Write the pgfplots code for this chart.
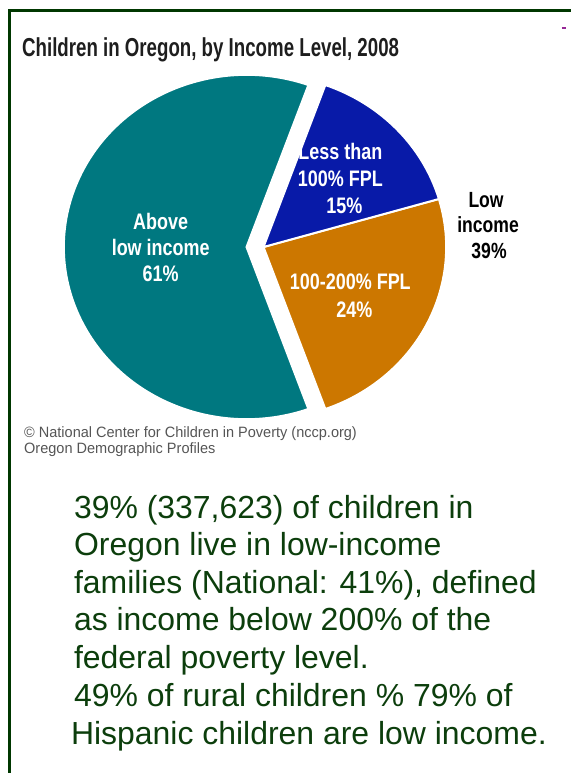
\documentclass[border=0pt]{standalone}
\usepackage{pgfplots}
\pgfplotsset{compat=1.18}
\usepackage{pgfplotstable}
\usepackage{fontspec}
\setmainfont{Liberation Sans}
\newfontfamily\titlefont[FakeStretch=0.72]{Liberation Sans}
\newfontfamily\piefont[FakeStretch=0.8]{Liberation Sans}
\newfontfamily\creditfont[FakeStretch=0.97]{Liberation Sans}
\definecolor{pieteal}{RGB}{0,120,128}
\definecolor{pieblue}{RGB}{8,26,168}
\definecolor{pieorange}{RGB}{204,119,0}
\definecolor{bordergreen}{RGB}{0,55,0}
\definecolor{textgreen}{RGB}{12,62,12}
\definecolor{titlegray}{RGB}{30,30,30}
\definecolor{creditgray}{RGB}{85,85,85}
\definecolor{dashpurple}{RGB}{150,40,150}

\pgfplotstableread{
slice value
above 61
below100 15
mid 24
}\piedata

\begin{document}%
\begin{tikzpicture}
\pgfplotstablegetelem{0}{value}\of\piedata \let\vA\pgfplotsretval
\pgfplotstablegetelem{1}{value}\of\piedata \let\vB\pgfplotsretval
\pgfplotstablegetelem{2}{value}\of\piedata \let\vC\pgfplotsretval
\pgfmathsetmacro\lowhalf{(\vB+\vC)*3.6/2}
\pgfmathsetmacro\aOrS{-\lowhalf}
\pgfmathsetmacro\aOrE{-\lowhalf+\vC*3.6}
\pgfmathsetmacro\aBlE{\aOrE+\vB*3.6}
\pgfmathsetmacro\aTeE{\aBlE+\vA*3.6}
\begin{axis}[
  width=572bp, height=774bp, scale only axis,
  xmin=0, xmax=572, ymin=0, ymax=774, y dir=reverse,
  hide axis, clip=false,
]
\path (axis cs:0,0) rectangle (axis cs:572,774);
% border
\draw[bordergreen, line width=3bp, line join=miter] (axis cs:572,11) -- (axis cs:9.5,11) -- (axis cs:9.5,774);
\draw[dashpurple, line width=2bp] (axis cs:563,28) -- (axis cs:567,28);
% title
\node[anchor=base west, inner sep=0, text=titlegray, font=\titlefont\bfseries\fontsize{26bp}{30bp}\selectfont] at (axis cs:22,57) {Children in Oregon, by Income Level, 2008};
% pie slices
\filldraw[fill=pieteal, draw=white, line width=2bp] (axis cs:247,247.5) -- ++(\aBlE:183bp and 172.5bp) arc[start angle=\aBlE, end angle=\aTeE, x radius=183bp, y radius=172.5bp] -- cycle;
\filldraw[fill=pieorange, draw=white, line width=2bp] (axis cs:264,247.5) -- ++(\aOrS:183bp and 172.5bp) arc[start angle=\aOrS, end angle=\aOrE, x radius=183bp, y radius=172.5bp] -- cycle;
\filldraw[fill=pieblue, draw=white, line width=2bp] (axis cs:264,247.5) -- ++(\aOrE:183bp and 172.5bp) arc[start angle=\aOrE, end angle=\aBlE, x radius=183bp, y radius=172.5bp] -- cycle;
% pie labels
\tikzset{pl/.style={anchor=base, inner sep=0, text=white, font=\piefont\bfseries\fontsize{22.5bp}{26bp}\selectfont}}
\node[pl] at (axis cs:161,230) {Above};
\node[pl] at (axis cs:161,256) {low income};
\node[pl] at (axis cs:161,282) {61\%};
\node[pl] at (axis cs:341,160) {Less than};
\node[pl] at (axis cs:341,187) {100\% FPL};
\node[pl] at (axis cs:345,214) {15\%};
\node[pl] at (axis cs:351,290) {100-200\% FPL};
\node[pl] at (axis cs:355,318) {24\%};
\tikzset{ll/.style={anchor=base, inner sep=0, text=black, font=\piefont\bfseries\fontsize{22bp}{26bp}\selectfont}}
\node[ll] at (axis cs:487,208) {Low};
\node[ll] at (axis cs:489,233) {income};
\node[ll] at (axis cs:490,259) {39\%};
% credits
\tikzset{cr/.style={anchor=base west, inner sep=0, text=creditgray, font=\creditfont\fontsize{15bp}{18bp}\selectfont}}
\node[cr] at (axis cs:24,438.5) {© National Center for Children in Poverty (nccp.org)};
\node[cr] at (axis cs:24,454) {Oregon Demographic Profiles};
% main text
\tikzset{mt/.style={anchor=base west, inner sep=0, text=textgreen, font=\fontsize{32bp}{38bp}\selectfont}}
\node[mt] at (axis cs:74,519) {39\% (337,623) of children in};
\node[mt] at (axis cs:74,556.7) {Oregon live in low-income};
\node[mt] at (axis cs:74,594.4) {families (National: 41\%), defined};
\node[mt] at (axis cs:74,632) {as income below 200\% of the};
\node[mt] at (axis cs:74,669.8) {federal poverty level.};
\node[mt] at (axis cs:74,707.5) {49\% of rural children \% 79\% of};
\node[mt] at (axis cs:71,746) {Hispanic children are low income.};
\end{axis}
\end{tikzpicture}%
\end{document}
